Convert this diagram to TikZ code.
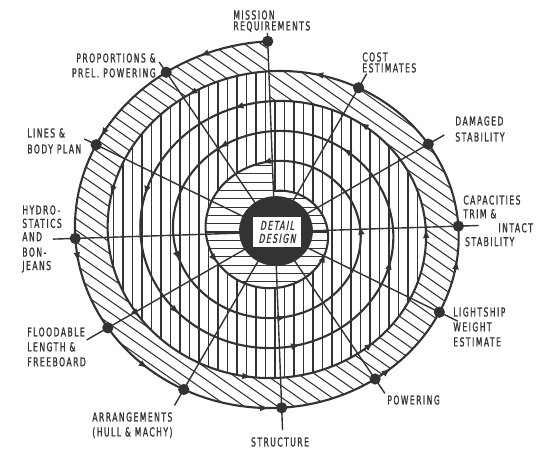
\documentclass[tikz,border=0pt]{standalone}
\usepackage{fontspec}
\usetikzlibrary{arrows.meta,decorations.markings,shapes.geometric}
\newfontfamily\lett[FakeStretch=0.62,LetterSpace=12,FakeBold=1.2]{DejaVu Sans}
\newfontfamily\lettsl[FakeStretch=0.62,LetterSpace=12,FakeSlant=0.18,FakeBold=1.2]{DejaVu Sans}
\definecolor{ink}{HTML}{333333}

\begin{document}
\begin{tikzpicture}[x=0.02cm,y=0.02cm,>=Latex,
  declare function={sr(\x)=191-\x/12;
    sx(\x)=1.09*sr(\x)*cos(90+\x); sy(\x)=sr(\x)*sin(90+\x);},
  hatch/.style={draw=ink,line width=.6pt},
  dot/.style={circle,fill=ink,inner sep=0pt,minimum size=6.4pt},
  spoke/.style={draw=ink,line width=.8pt},
  coil/.style={draw=ink,line width=1.2pt,
    decoration={markings,mark=between positions 40pt and -20pt step 74pt
      with {\arrow{Latex[length=5.5pt,width=3.8pt]}}},postaction={decorate}},
  lbl/.style={font=\lett\fontsize{7}{#1}\selectfont,text=ink,inner sep=0pt,align=left},
  lbl/.default=8.3pt]
\useasboundingbox (-275,-219) rectangle (273,232);
% first lap: concept
\begin{scope}[domain=2:362,samples=145]
  \fill[white] plot ({sx(\x)},{sy(\x)}) -- cycle;
  \clip plot ({sx(\x)},{sy(\x)}) -- cycle;
  \foreach \c in {-430,-418.3,...,430}
    \draw[hatch] (-250,\c+175) -- (250,\c-175);
\end{scope}
% middle laps: preliminary and contract
\begin{scope}[domain=362:722,samples=145]
  \fill[white] plot ({sx(\x)},{sy(\x)}) -- cycle;
  \clip plot ({sx(\x)},{sy(\x)}) -- cycle;
  \foreach \c in {-228,-218.5,...,230}
    \draw[hatch] (\c,-200) -- (\c,200);
\end{scope}
% last lap
\begin{scope}[domain=1442:1802,samples=145]
  \fill[white] plot ({sx(\x)},{sy(\x)}) -- cycle;
  \clip plot ({sx(\x)},{sy(\x)}) -- cycle;
  \foreach \c in {-83,-74.7,...,85}
    \draw[hatch] (-100,\c) -- (100,\c);
\end{scope}
% the spiral
\draw[coil] plot[domain=2:1802,samples=721] ({sx(\x)},{sy(\x)});
% stations
\node[dot] (mission) at ({sx(2)},{sy(2)}) {};
\node[dot] (proportions) at ({sx(32)},{sy(32)}) {};
\node[dot] (lines) at ({sx(62)},{sy(62)}) {};
\node[dot] (hydro) at ({sx(92)},{sy(92)}) {};
\node[dot] (floodable) at ({sx(122)},{sy(122)}) {};
\node[dot] (arrangements) at ({sx(152)},{sy(152)}) {};
\node[dot] (structure) at ({sx(182)},{sy(182)}) {};
\node[dot] (powering) at ({sx(212)},{sy(212)}) {};
\node[dot] (lightship) at ({sx(242)},{sy(242)}) {};
\node[dot] (capacities) at ({sx(272)},{sy(272)}) {};
\node[dot] (damaged) at ({sx(302)},{sy(302)}) {};
\node[dot] (cost) at ({sx(332)},{sy(332)}) {};
\draw[spoke,shorten <=-4.8pt,shorten >=-12.7pt] (mission.center) -- (structure.center);
\draw[spoke,shorten <=-7.1pt,shorten >=-9.9pt] (proportions.center) -- (powering.center);
\draw[spoke,shorten <=-7.6pt,shorten >=-11.6pt] (lines.center) -- (lightship.center);
\draw[spoke,shorten <=-12.7pt,shorten >=-11.6pt] (hydro.center) -- (capacities.center);
\draw[spoke,shorten <=-13.9pt,shorten >=-10.5pt] (floodable.center) -- (damaged.center);
\draw[spoke,shorten <=-10.5pt,shorten >=-9.3pt] (arrangements.center) -- (cost.center);
% core
\node[ellipse,fill=ink,inner sep=0pt,minimum width=42pt,minimum height=39.7pt] (core) at (1,1) {};
\node[draw=ink,fill=white,line width=.6pt,minimum width=28.4pt,minimum height=18.1pt,
  inner sep=0pt,align=center,text=ink,font=\lettsl\fontsize{7}{7.4}\selectfont]
  (detail) at (2,0) {DETAIL\\DESIGN};
% labels
\node[lbl=6.2pt,anchor=north west] (mission-txt) at (-42,222) {MISSION\\REQUIREMENTS};
\node[lbl=6.2pt,anchor=north west] (cost-txt) at (87,180) {COST\\ESTIMATES};
\node[lbl=9.1pt,anchor=north west] (damaged-txt) at (180,116) {DAMAGED\\STABILITY};
\node[lbl=7.9pt,anchor=north west] (capacities-txt) at (188,37)
  {CAPACITIES\\TRIM \&\\\hspace*{20pt}INTACT\\\hspace*{1pt}STABILITY};
\node[lbl=8.5pt,anchor=north west] (lightship-txt) at (178,-75) {LIGHTSHIP\\WEIGHT\\ESTIMATE};
\node[lbl,anchor=north west] (powering-txt) at (112,-163) {POWERING};
\node[lbl,anchor=north] (structure-txt) at (5,-205) {STRUCTURE};
\node[lbl=8.5pt,anchor=north west] (arrangements-txt) at (-183,-180) {ARRANGEMENTS\\(HULL \& MACHY)};
\node[lbl=8.5pt,anchor=north west] (floodable-txt) at (-248,-95) {FLOODABLE\\LENGTH \&\\FREEBOARD};
\node[lbl=7.6pt,anchor=north west] (hydro-txt) at (-253,27) {HYDRO-\\STATICS\\AND\\[1.2pt]BON-\\JEANS};
\node[lbl=9.1pt,anchor=north west] (lines-txt) at (-248,104) {LINES \&\\BODY PLAN};
\node[lbl=8.5pt,anchor=north east,align=right] (proportions-txt) at (-119,179) {PROPORTIONS \&\\PREL. POWERING};
\end{tikzpicture}
\end{document}
